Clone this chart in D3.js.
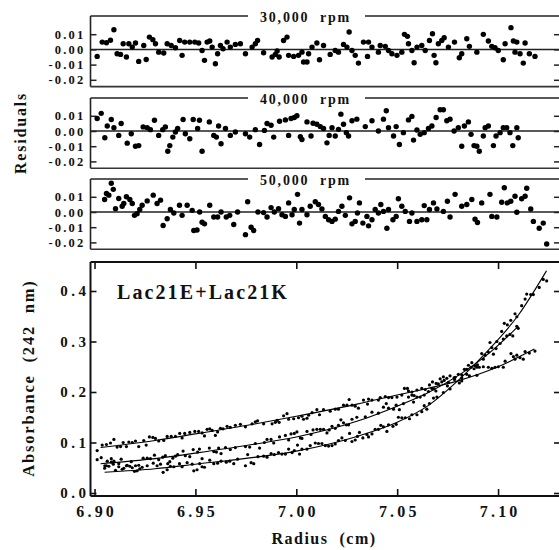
<!DOCTYPE html>
<html><head><meta charset="utf-8">
<script src="https://cdn.jsdelivr.net/npm/d3@7"></script>
<style>
body{margin:0;background:#fff}
text{font-family:'Liberation Serif','Times New Roman',serif;font-weight:bold;fill:#111}
</style>
</head><body><div id="chart"></div>
<script>
// Residuals and absorbance scans for three rotor speeds
const speedLabels = ['30,000  rpm', '40,000  rpm', '50,000  rpm'];
const residTicks = [0.01, 0, -0.01, -0.02];
const residTickLabels = ['0.01', '0.00', '-0.01', '-0.02'];
const absTicks = [0, 0.1, 0.2, 0.3, 0.4];
const absTickLabels = ['0.0', '0.1', '0.2', '0.3', '0.4'];
const radiusTicks = [6.90, 6.95, 7.00, 7.05, 7.10];
const radiusTickLabels = ['6.90', '6.95', '7.00', '7.05', '7.10'];

// [radius, residual]
const res30 = [[6.9013,-0.0046],[6.9038,0.0048],[6.9059,0.0044],[6.9079,0.0060],[6.9096,0.0129],[6.9112,-0.0029],[6.9129,-0.0033],[6.9142,0.0037],[6.9158,-0.0050],[6.9170,0.0037],[6.9187,0.0015],[6.9203,0.0042],[6.9219,-0.0079],[6.9244,0.0026],[6.9256,-0.0066],[6.9272,0.0081],[6.9289,0.0064],[6.9302,0.0037],[6.9318,-0.0018],[6.9343,-0.0024],[6.9360,0.0037],[6.9380,0.0026],[6.9401,0.0011],[6.9422,0.0059],[6.9434,-0.0039],[6.9447,0.0048],[6.9472,0.0048],[6.9497,0.0048],[6.9516,0.0042],[6.9533,-0.0007],[6.9545,-0.0072],[6.9558,0.0048],[6.9571,0.0055],[6.9583,0.0015],[6.9599,-0.0094],[6.9610,-0.0029],[6.9624,0.0026],[6.9637,0.0004],[6.9657,0.0048],[6.9673,0.0015],[6.9698,0.0033],[6.9723,0.0037],[6.9748,-0.0029],[6.9781,0.0015],[6.9797,0.0037],[6.9808,0.0059],[6.9838,-0.0022],[6.9880,-0.0050],[6.9896,-0.0033],[6.9905,-0.0010],[6.9915,-0.0050],[6.9937,0.0059],[6.9954,0.0081],[6.9962,-0.0039],[6.9987,-0.0046],[7.0011,-0.0039],[7.0028,-0.0018],[7.0036,-0.0083],[7.0053,-0.0083],[7.0061,-0.0029],[7.0078,0.0015],[7.0102,0.0042],[7.0115,-0.0068],[7.0135,0.0026],[7.0168,-0.0033],[7.0193,-0.0007],[7.0209,-0.0018],[7.0234,0.0033],[7.0251,0.0015],[7.0262,0.0114],[7.0276,-0.0007],[7.0292,-0.0039],[7.0308,-0.0090],[7.0333,0.0048],[7.0353,-0.0046],[7.0358,0.0048],[7.0375,0.0015],[7.0407,-0.0018],[7.0416,0.0026],[7.0441,0.0020],[7.0457,-0.0007],[7.0474,-0.0029],[7.0499,-0.0039],[7.0523,-0.0018],[7.0536,0.0099],[7.0551,0.0086],[7.0556,0.0037],[7.0573,-0.0007],[7.0584,-0.0088],[7.0598,0.0015],[7.0622,0.0026],[7.0639,-0.0007],[7.0660,0.0059],[7.0675,0.0103],[7.0683,-0.0039],[7.0692,-0.0088],[7.0704,0.0037],[7.0721,0.0059],[7.0733,0.0077],[7.0754,0.0015],[7.0784,0.0048],[7.0808,-0.0055],[7.0820,-0.0029],[7.0845,0.0070],[7.0858,0.0020],[7.0895,-0.0018],[7.0927,0.0099],[7.0952,0.0055],[7.0969,0.0020],[7.0985,0.0011],[7.1001,-0.0007],[7.1026,-0.0068],[7.1035,0.0037],[7.1064,0.0143],[7.1076,0.0055],[7.1084,-0.0018],[7.1093,0.0048],[7.1109,-0.0029],[7.1125,-0.0090],[7.1134,0.0042],[7.1155,-0.0029],[7.1183,-0.0046]];

const res40 = [[6.9013,0.0082],[6.9033,0.0116],[6.9051,-0.0044],[6.9063,0.0033],[6.9083,0.0076],[6.9096,0.0022],[6.9120,-0.0029],[6.9132,0.0049],[6.9162,-0.0080],[6.9182,-0.0018],[6.9203,-0.0100],[6.9219,-0.0096],[6.9241,0.0027],[6.9261,0.0022],[6.9277,0.0009],[6.9297,0.0071],[6.9318,-0.0029],[6.9338,0.0009],[6.9351,0.0027],[6.9363,-0.0133],[6.9373,-0.0096],[6.9388,-0.0040],[6.9401,-0.0007],[6.9412,0.0016],[6.9439,0.0076],[6.9450,-0.0018],[6.9472,-0.0051],[6.9489,0.0076],[6.9511,0.0016],[6.9520,0.0071],[6.9533,-0.0133],[6.9569,0.0060],[6.9591,-0.0029],[6.9604,-0.0040],[6.9615,0.0033],[6.9627,-0.0084],[6.9649,0.0016],[6.9673,-0.0029],[6.9698,-0.0007],[6.9748,-0.0018],[6.9769,-0.0040],[6.9797,0.0009],[6.9818,-0.0089],[6.9842,0.0004],[6.9855,0.0049],[6.9875,0.0038],[6.9888,-0.0040],[6.9917,0.0064],[6.9946,0.0073],[6.9962,-0.0029],[6.9974,0.0082],[6.9990,0.0089],[7.0003,0.0100],[7.0020,-0.0038],[7.0028,-0.0056],[7.0053,0.0060],[7.0073,-0.0033],[7.0083,0.0051],[7.0102,0.0044],[7.0119,0.0029],[7.0135,0.0016],[7.0152,-0.0078],[7.0163,-0.0029],[7.0177,0.0022],[7.0193,-0.0033],[7.0209,0.0011],[7.0221,0.0111],[7.0234,0.0044],[7.0248,-0.0011],[7.0259,-0.0033],[7.0276,0.0067],[7.0300,0.0078],[7.0342,0.0029],[7.0375,0.0067],[7.0407,0.0000],[7.0432,0.0078],[7.0446,0.0133],[7.0457,0.0022],[7.0482,-0.0033],[7.0495,0.0029],[7.0511,-0.0089],[7.0531,-0.0011],[7.0556,0.0073],[7.0573,0.0096],[7.0581,-0.0060],[7.0598,0.0007],[7.0614,-0.0022],[7.0634,-0.0011],[7.0655,0.0016],[7.0672,0.0033],[7.0693,0.0089],[7.0713,0.0140],[7.0729,0.0140],[7.0746,0.0067],[7.0762,0.0078],[7.0782,0.0000],[7.0803,0.0022],[7.0820,-0.0100],[7.0833,0.0033],[7.0853,0.0060],[7.0866,-0.0022],[7.0881,-0.0096],[7.0895,-0.0100],[7.0907,-0.0133],[7.0927,-0.0033],[7.0936,0.0022],[7.0952,0.0033],[7.0977,-0.0096],[7.0990,-0.0033],[7.1010,-0.0011],[7.1026,0.0022],[7.1043,0.0022],[7.1059,-0.0011],[7.1073,-0.0096],[7.1093,0.0022],[7.1100,-0.0044]];

const res50 = [[6.9050,0.0082],[6.9059,0.0122],[6.9071,0.0111],[6.9083,0.0189],[6.9093,0.0149],[6.9104,0.0022],[6.9120,0.0089],[6.9137,0.0038],[6.9145,0.0056],[6.9158,0.0100],[6.9175,0.0082],[6.9187,0.0056],[6.9198,-0.0022],[6.9211,-0.0011],[6.9224,0.0016],[6.9236,0.0044],[6.9261,0.0073],[6.9291,0.0111],[6.9310,0.0056],[6.9327,0.0078],[6.9340,-0.0089],[6.9360,-0.0044],[6.9376,0.0016],[6.9393,-0.0007],[6.9421,0.0044],[6.9434,-0.0022],[6.9459,0.0044],[6.9484,0.0011],[6.9492,-0.0122],[6.9508,-0.0118],[6.9521,0.0000],[6.9533,-0.0067],[6.9545,-0.0078],[6.9571,0.0044],[6.9591,-0.0033],[6.9610,-0.0033],[6.9627,0.0000],[6.9653,-0.0033],[6.9670,-0.0022],[6.9690,-0.0082],[6.9709,0.0000],[6.9748,-0.0149],[6.9759,0.0067],[6.9776,-0.0100],[6.9789,-0.0122],[6.9810,0.0000],[6.9838,-0.0004],[6.9855,-0.0033],[6.9875,0.0029],[6.9891,0.0000],[6.9912,0.0022],[6.9929,-0.0018],[6.9946,-0.0029],[6.9962,0.0060],[6.9979,-0.0018],[6.9990,0.0016],[7.0006,0.0116],[7.0016,-0.0073],[7.0028,0.0016],[7.0053,-0.0018],[7.0069,0.0038],[7.0094,0.0067],[7.0110,0.0049],[7.0127,0.0020],[7.0144,-0.0029],[7.0160,-0.0051],[7.0177,-0.0062],[7.0193,-0.0047],[7.0209,0.0004],[7.0226,0.0038],[7.0243,-0.0022],[7.0264,0.0093],[7.0276,-0.0078],[7.0292,-0.0062],[7.0303,-0.0007],[7.0313,0.0060],[7.0330,-0.0073],[7.0350,-0.0029],[7.0358,-0.0091],[7.0375,-0.0051],[7.0391,0.0016],[7.0407,-0.0007],[7.0419,0.0049],[7.0432,0.0004],[7.0449,-0.0107],[7.0457,0.0016],[7.0479,-0.0051],[7.0495,-0.0029],[7.0506,0.0087],[7.0523,0.0038],[7.0540,0.0004],[7.0561,-0.0062],[7.0573,-0.0007],[7.0598,-0.0062],[7.0622,-0.0051],[7.0634,0.0042],[7.0647,-0.0051],[7.0660,0.0016],[7.0680,0.0060],[7.0697,0.0020],[7.0729,0.0004],[7.0749,0.0071],[7.0762,-0.0033],[7.0787,0.0116],[7.0820,0.0038],[7.0845,0.0049],[7.0870,0.0082],[7.0886,-0.0047],[7.0898,-0.0069],[7.0919,0.0060],[7.0960,0.0116],[7.0969,-0.0029],[7.0994,-0.0033],[7.1018,0.0064],[7.1031,0.0160],[7.1046,0.0060],[7.1063,0.0071],[7.1084,0.0104],[7.1093,-0.0002],[7.1117,0.0087],[7.1134,0.0104],[7.1142,0.0156],[7.1162,0.0020],[7.1175,-0.0062],[7.1204,-0.0107],[7.1224,-0.0073],[7.1241,-0.0211]];

// absorbance of each scan point, same order as the residual radii above
const abs30 = [0.084,0.095,0.096,0.099,0.106,0.091,0.092,0.100,0.092,0.101,0.100,0.103,0.092,0.104,0.095,0.111,0.110,0.108,0.103,0.104,0.112,0.112,0.112,0.118,0.109,0.118,0.120,0.122,0.122,0.119,0.113,0.126,0.127,0.124,0.114,0.121,0.128,0.127,0.132,0.130,0.134,0.136,0.131,0.137,0.141,0.143,0.137,0.137,0.140,0.144,0.140,0.153,0.157,0.146,0.147,0.149,0.152,0.146,0.148,0.154,0.159,0.165,0.155,0.165,0.162,0.166,0.166,0.174,0.174,0.185,0.174,0.172,0.168,0.184,0.176,0.186,0.184,0.184,0.189,0.191,0.189,0.189,0.190,0.194,0.207,0.207,0.202,0.200,0.193,0.204,0.207,0.205,0.214,0.220,0.206,0.202,0.216,0.220,0.223,0.219,0.225,0.218,0.222,0.235,0.232,0.233,0.250,0.249,0.247,0.249,0.250,0.249,0.261,0.276,0.270,0.265,0.273,0.268,0.265,0.280,0.277,0.281];

const abs40 = [0.066,0.070,0.054,0.063,0.068,0.063,0.058,0.067,0.055,0.062,0.054,0.055,0.069,0.069,0.068,0.075,0.066,0.071,0.074,0.058,0.062,0.069,0.073,0.076,0.083,0.074,0.072,0.086,0.081,0.087,0.068,0.089,0.082,0.081,0.089,0.078,0.090,0.086,0.090,0.092,0.091,0.098,0.089,0.100,0.106,0.106,0.099,0.111,0.114,0.105,0.117,0.118,0.121,0.109,0.108,0.122,0.116,0.125,0.126,0.126,0.126,0.119,0.125,0.132,0.128,0.134,0.145,0.139,0.135,0.135,0.146,0.150,0.151,0.160,0.158,0.170,0.177,0.168,0.166,0.174,0.165,0.177,0.190,0.194,0.180,0.190,0.190,0.194,0.201,0.207,0.217,0.226,0.230,0.227,0.232,0.228,0.235,0.228,0.245,0.253,0.249,0.246,0.249,0.249,0.265,0.273,0.279,0.275,0.286,0.296,0.305,0.311,0.314,0.311,0.330,0.326];

const abs50 = [0.049,0.054,0.053,0.061,0.057,0.045,0.052,0.047,0.049,0.054,0.053,0.050,0.043,0.044,0.048,0.051,0.054,0.059,0.054,0.057,0.041,0.046,0.053,0.052,0.058,0.052,0.060,0.057,0.044,0.046,0.058,0.052,0.051,0.065,0.058,0.059,0.063,0.061,0.063,0.058,0.067,0.054,0.076,0.060,0.058,0.072,0.073,0.071,0.078,0.076,0.080,0.077,0.077,0.087,0.080,0.084,0.095,0.077,0.087,0.087,0.094,0.099,0.098,0.098,0.094,0.093,0.094,0.097,0.104,0.109,0.104,0.118,0.102,0.105,0.112,0.120,0.109,0.116,0.111,0.117,0.126,0.126,0.134,0.131,0.122,0.135,0.132,0.136,0.150,0.149,0.149,0.147,0.155,0.155,0.161,0.173,0.166,0.177,0.188,0.190,0.199,0.212,0.206,0.229,0.234,0.245,0.258,0.252,0.254,0.276,0.298,0.288,0.300,0.320,0.336,0.333,0.342,0.355,0.349,0.371,0.384,0.394,0.393,0.393,0.407,0.423,0.420];

// fitted curves
const fit30 = [[6.903,0.090],[6.93,0.104],[6.95,0.117],[6.98,0.137],[7.00,0.152],[7.03,0.176],[7.05,0.194],[7.065,0.207],[7.08,0.222],[7.10,0.250],[7.118,0.285]];
const fit40 = [[6.903,0.058],[6.93,0.068],[6.95,0.079],[6.98,0.097],[7.00,0.111],[7.03,0.142],[7.05,0.172],[7.065,0.198],[7.08,0.232],[7.095,0.275],[7.11,0.330]];
const fit50 = [[6.905,0.041],[6.93,0.048],[6.95,0.057],[6.98,0.071],[7.00,0.083],[7.03,0.112],[7.05,0.140],[7.065,0.172],[7.08,0.222],[7.095,0.282],[7.11,0.352],[7.124,0.440]];

const W = 559, H = 550;
const svg = d3.select('#chart').append('svg')
  .attr('width', W).attr('height', H);

const left = 90.5, right = 560;
const x = d3.scaleLinear().domain([6.898, 7.1307]).range([left, right]);

// residual panels
const panelTop = [16, 98, 179];
const panelZero = [49.4, 131, 212];
const residSets = [res30, res40, res50];

residSets.forEach((set, i) => {
  const top = panelTop[i];
  const z = panelZero[i];
  const y = d3.scaleLinear().domain([0, 0.01]).range([z, z - 15.2]);
  const bottom = y(-0.0245);
  const g = svg.append('g');

  // frame, top edge broken by the speed label
  g.append('line').attr('x1', left).attr('x2', left).attr('y1', top).attr('y2', bottom)
    .attr('stroke', '#222').attr('stroke-width', 1.6);
  g.append('line').attr('x1', left).attr('x2', right).attr('y1', bottom).attr('y2', bottom)
    .attr('stroke', '#333').attr('stroke-width', 1.6);
  g.append('line').attr('x1', left).attr('x2', 248).attr('y1', top).attr('y2', top)
    .attr('stroke', '#222').attr('stroke-width', 1.6);
  g.append('line').attr('x1', 365).attr('x2', right).attr('y1', top).attr('y2', top)
    .attr('stroke', '#222').attr('stroke-width', 1.6);
  g.append('text').attr('x', 260).attr('y', top + 5.5)
    .style('white-space', 'pre')
    .attr('font-size', '14px').attr('letter-spacing', '1.8px')
    .text(speedLabels[i]);

  // zero line
  g.append('line').attr('x1', left).attr('x2', right).attr('y1', y(0)).attr('y2', y(0))
    .attr('stroke', '#222').attr('stroke-width', 1.5);

  const ax = g.append('g').attr('transform', `translate(${left},0)`)
    .call(d3.axisLeft(y).tickValues(residTicks).tickSize(-6).tickPadding(5)
      .tickFormat((d, k) => residTickLabels[k]));
  ax.select('.domain').remove();
  ax.selectAll('line').attr('stroke', '#222').attr('stroke-width', 1.5);
  ax.selectAll('text').attr('font-size', '12.5px').attr('letter-spacing', '2.2px')
    .attr('font-family', null).attr('fill', '#111');
  const axr = g.append('g').attr('transform', `translate(${right},0)`)
    .call(d3.axisRight(y).tickValues(residTicks).tickSize(-6).tickFormat(''));
  axr.select('.domain').remove();
  axr.selectAll('line').attr('stroke', '#222').attr('stroke-width', 1.5);

  g.selectAll('circle').data(set).enter().append('circle')
    .attr('cx', d => x(d[0])).attr('cy', d => y(d[1]))
    .attr('r', 2.7).attr('fill', '#000');
});

// main absorbance panel
const mTop = 262, mBottom = 496;
const ya = d3.scaleLinear().domain([0, 0.4]).range([493, 291]);
const gm = svg.append('g');
gm.append('line').attr('x1', left).attr('x2', left).attr('y1', mTop).attr('y2', mBottom)
  .attr('stroke', '#111').attr('stroke-width', 2);
gm.append('line').attr('x1', left).attr('x2', right).attr('y1', mTop).attr('y2', mTop)
  .attr('stroke', '#111').attr('stroke-width', 2);
gm.append('line').attr('x1', left).attr('x2', right).attr('y1', mBottom).attr('y2', mBottom)
  .attr('stroke', '#111').attr('stroke-width', 2);

const yl = gm.append('g').attr('transform', `translate(${left},0)`)
  .call(d3.axisLeft(ya).tickValues(absTicks).tickSize(-6).tickPadding(1)
    .tickFormat((d, k) => absTickLabels[k]));
yl.select('.domain').remove();
yl.selectAll('line').attr('stroke', '#111').attr('stroke-width', 1.6);
yl.selectAll('text').attr('font-size', '15px').attr('letter-spacing', '3.5px')
  .attr('font-family', null).attr('fill', '#111');

const yr = gm.append('g').attr('transform', `translate(${right},0)`)
  .call(d3.axisRight(ya).tickValues(absTicks).tickSize(-6).tickFormat(''));
yr.select('.domain').remove();
yr.selectAll('line').attr('stroke', '#111').attr('stroke-width', 1.6);

const xb = gm.append('g').attr('transform', `translate(0,${mBottom})`)
  .call(d3.axisBottom(x).tickValues(radiusTicks).tickSize(-7).tickPadding(10)
    .tickFormat((d, k) => radiusTickLabels[k]));
xb.select('.domain').remove();
xb.selectAll('line').attr('stroke', '#111').attr('stroke-width', 1.6);
xb.selectAll('text').attr('font-size', '16px').attr('letter-spacing', '3.2px')
  .attr('dx', '1.6px').attr('font-family', null).attr('fill', '#111');

const xt = gm.append('g').attr('transform', `translate(0,${mTop})`)
  .call(d3.axisTop(x).tickValues(radiusTicks).tickSize(-7).tickFormat(''));
xt.select('.domain').remove();
xt.selectAll('line').attr('stroke', '#111').attr('stroke-width', 1.6);

const line = d3.line().x(d => x(d[0])).y(d => ya(d[1])).curve(d3.curveMonotoneX);
[fit30, fit40, fit50].forEach(f => {
  gm.append('path').datum(f).attr('d', line)
    .attr('fill', 'none').attr('stroke', '#000').attr('stroke-width', 1.1);
});

// scan points
[[res30, abs30], [res40, abs40], [res50, abs50]].forEach(([rs, as]) => {
  gm.append('g').selectAll('circle').data(as).enter().append('circle')
    .attr('cx', (d, k) => x(rs[k][0])).attr('cy', d => ya(d))
    .attr('r', 1.6).attr('fill', '#000');
});

gm.append('text').attr('x', 117).attr('y', 299)
  .attr('font-size', '20px').attr('letter-spacing', '2.1px')
  .text('Lac21E+Lac21K');

// axis titles
svg.append('text').attr('x', 324).attr('y', 544).attr('text-anchor', 'middle')
  .style('white-space', 'pre')
  .attr('font-size', '16px').attr('letter-spacing', '1.5px')
  .text('Radius  (cm)');
svg.append('text').attr('transform', 'translate(34,378) rotate(-90)')
  .attr('text-anchor', 'middle').style('white-space', 'pre')
  .attr('font-size', '16.5px').attr('letter-spacing', '1.8px')
  .text('Absorbance  (242  nm)');
svg.append('text').attr('transform', 'translate(26,133) rotate(-90)')
  .attr('text-anchor', 'middle')
  .attr('font-size', '16px').attr('letter-spacing', '1.8px')
  .text('Residuals');
</script>
</body></html>
